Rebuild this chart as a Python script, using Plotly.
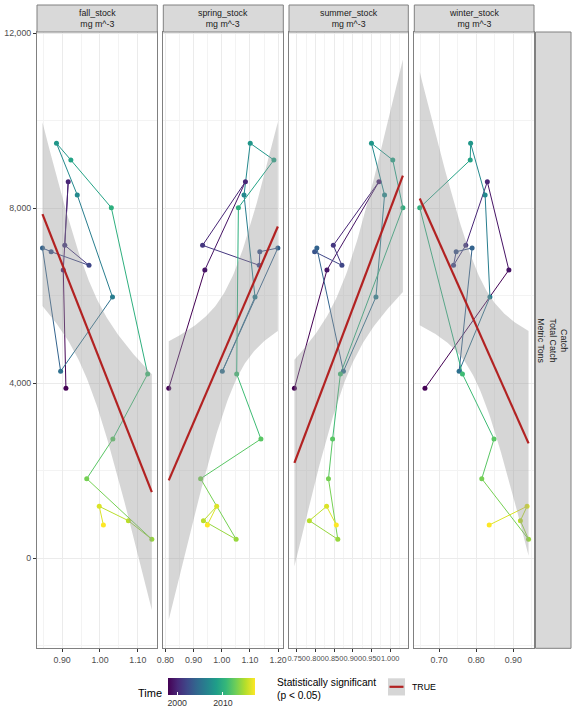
import numpy as np
import plotly.graph_objects as go
from plotly.colors import sample_colorscale

# ---------------- data ----------------
years = list(range(1998, 2018))
catch = [3878, 6583, 8601, 7147, 6690, 7001, 7086, 4267, 5966, 8297,
         9479, 9097, 8007, 4206, 2720, 1813, 427, 853, 1181, 754]
fall_stock = [0.910, 0.903, 0.916, 0.907, 0.971, 0.871, 0.848, 0.896, 1.033, 0.940,
              0.885, 0.923, 1.030, 1.126, 1.034, 0.965, 1.137, 1.075, 0.998, 1.009]
spring_stock = [0.812, 0.940, 1.084, 0.932, 1.133, 1.135, 1.199, 1.002, 1.118, 1.079,
                1.101, 1.185, 1.059, 1.053, 1.139, 0.925, 1.051, 0.935, 0.982, 0.949]
summer_stock = [0.744, 0.831, 0.970, 0.848, 0.871, 0.798, 0.804, 0.875, 0.962, 0.985,
                0.950, 1.007, 1.034, 0.867, 0.846, 0.835, 0.860, 0.784, 0.830, 0.856]
winter_stock = [0.662, 0.888, 0.830, 0.772, 0.739, 0.746, 0.789, 0.754, 0.837, 0.824,
                0.785, 0.784, 0.648, 0.763, 0.848, 0.815, 0.941, 0.919, 0.937, 0.835]

panel_names = ["fall_stock", "spring_stock", "summer_stock", "winter_stock"]
panel_units = "mg m^-3"
panel_data = [fall_stock, spring_stock, summer_stock, winter_stock]
x_dticks = [0.1, 0.1, 0.05, 0.1]
x_formats = [".2f", ".2f", ".3f", ".2f"]
x_fontsizes = [8.8, 8.8, 7.4, 8.8]
y_ticks = [0, 4000, 8000, 12000]
y_ticklabels = ["0", "4,000", "8,000", "12,000"]
color_ticks = [2000, 2010]
facet_right = "Catch<br>Total Catch<br>Metric Tons"
legend_title = "Statistically significant<br>(p < 0.05)"
legend_item = "TRUE"

# ---------------- layout helpers ----------------
W, H = 576, 720
def px(x): return x / W
def py(y): return 1 - y / H

panels_px = [(37.0, 157.3), (163.3, 283.3), (289.0, 408.3), (414.3, 534.0)]
top, bottom = 32.0, 648.3
FONT = "Liberation Sans, Arial, sans-serif"
T975_DF18 = 2.100922  # Student t quantile for 95% CI with n-2 = 18 df

def lm_band(x, y, n=100):
    x = np.asarray(x, float); y = np.asarray(y, float)
    b, a = np.polyfit(x, y, 1)
    xs = np.linspace(x.min(), x.max(), n)
    yhat = a + b * xs
    resid = y - (a + b * x)
    s = np.sqrt(np.sum(resid ** 2) / (len(x) - 2))
    sxx = np.sum((x - x.mean()) ** 2)
    se = s * np.sqrt(1 / len(x) + (xs - x.mean()) ** 2 / sxx)
    return xs, yhat, yhat - T975_DF18 * se, yhat + T975_DF18 * se

tnorm = [(yr - years[0]) / (years[-1] - years[0]) for yr in years]
seg_colors = sample_colorscale("Viridis", tnorm)

fig = go.Figure()
shapes = []
annotations = []

for i, xs in enumerate(panel_data):
    sfx = "" if i == 0 else str(i + 1)
    xr, yr_ = "x" + sfx, "y" + sfx
    # path segments coloured by start year
    for k in range(len(xs) - 1):
        fig.add_trace(go.Scatter(
            x=[xs[k], xs[k + 1]], y=[catch[k], catch[k + 1]], mode="lines",
            line=dict(color=seg_colors[k], width=1), xaxis=xr, yaxis=yr_,
            showlegend=False, hoverinfo="skip"))
    # points
    fig.add_trace(go.Scatter(
        x=xs, y=catch, mode="markers", xaxis=xr, yaxis=yr_, showlegend=False,
        marker=dict(color=years, colorscale="Viridis", cmin=years[0], cmax=years[-1],
                    size=5, line=dict(width=0), showscale=(i == 0),
                    colorbar=dict(orientation="h", x=px(168), xanchor="left",
                                  y=py(678), yanchor="top", len=87, lenmode="pixels",
                                  thickness=17, thicknessmode="pixels", xpad=0, ypad=0,
                                  outlinewidth=0, tickvals=color_ticks, ticks="inside",
                                  tickcolor="white", ticklen=3,
                                  tickfont=dict(size=8.8, color="#333333", family=FONT)))))
    # lm smooth with CI
    gx, gy, lo, hi = lm_band(xs, catch)
    fig.add_trace(go.Scatter(
        x=np.concatenate([gx, gx[::-1]]), y=np.concatenate([lo, hi[::-1]]),
        fill="toself", fillcolor="rgba(153,153,153,0.4)", line=dict(width=0),
        mode="lines", xaxis=xr, yaxis=yr_, showlegend=False, hoverinfo="skip"))
    fig.add_trace(go.Scatter(
        x=gx, y=gy, mode="lines", line=dict(color="#B22222", width=2.2),
        xaxis=xr, yaxis=yr_, showlegend=False, hoverinfo="skip"))

    # axes
    x0p, x1p = panels_px[i]
    span = max(xs) - min(xs)
    xrange = [min(xs) - 0.05 * span, max(xs) + 0.05 * span]
    fig.update_layout(**{
        "xaxis" + sfx: dict(
            domain=[px(x0p), px(x1p)], range=xrange, anchor=yr_, automargin=False,
            dtick=x_dticks[i], tick0=0, tickformat=x_formats[i], tickangle=0,
            showgrid=True, gridcolor="#EBEBEB", gridwidth=1,
            minor=dict(dtick=x_dticks[i] / 2, tick0=0, showgrid=True,
                       gridcolor="#F3F3F3", gridwidth=0.6),
            ticks="outside", ticklen=3, tickcolor="#333333", tickwidth=0.6,
            tickfont=dict(size=x_fontsizes[i], color="#4D4D4D", family=FONT),
            showline=True, linecolor="#808080", linewidth=1, mirror=True,
            zeroline=False),
        "yaxis" + sfx: dict(
            domain=[py(bottom), py(top)], range=[-2064, 12023], anchor=xr,
            automargin=False,
            tickvals=y_ticks, ticktext=y_ticklabels, showticklabels=(i == 0),
            ticks="outside" if i == 0 else "", ticklen=3, tickcolor="#333333",
            tickwidth=0.6,
            tickfont=dict(size=8.8, color="#4D4D4D", family=FONT),
            showgrid=True, gridcolor="#EBEBEB", gridwidth=1,
            minor=dict(dtick=2000, tick0=0, showgrid=True,
                       gridcolor="#F3F3F3", gridwidth=0.6),
            showline=True, linecolor="#808080", linewidth=1, mirror=True,
            zeroline=False),
    })
    # strip on top
    shapes.append(dict(type="rect", xref="paper", yref="paper",
                       x0=px(x0p), x1=px(x1p), y0=py(32), y1=py(5),
                       fillcolor="#D9D9D9", line=dict(color="#808080", width=1)))
    annotations.append(dict(xref="paper", yref="paper", x=px((x0p + x1p) / 2),
                            y=py(18.5), xanchor="center", yanchor="middle",
                            text=panel_names[i] + "<br>" + panel_units, showarrow=False,
                            font=dict(size=8.8, color="#1A1A1A", family=FONT)))

# right strip
shapes.append(dict(type="rect", xref="paper", yref="paper",
                   x0=px(535.5), x1=px(571), y0=py(bottom), y1=py(top),
                   fillcolor="#D9D9D9", line=dict(color="#808080", width=1)))
annotations.append(dict(xref="paper", yref="paper", x=px(553), y=py((top + bottom) / 2),
                        xanchor="center", yanchor="middle", text=facet_right,
                        textangle=90, showarrow=False,
                        font=dict(size=8.8, color="#1A1A1A", family=FONT)))

# colour legend title
annotations.append(dict(xref="paper", yref="paper", x=px(164), y=py(693),
                        xanchor="right", yanchor="middle", text="Time", showarrow=False,
                        font=dict(size=11, color="#000000", family=FONT)))
# significance legend
annotations.append(dict(xref="paper", yref="paper", x=px(275), y=py(689),
                        xanchor="left", yanchor="middle", text=legend_title, align="left",
                        showarrow=False, font=dict(size=10.2, color="#000000", family=FONT)))
shapes.append(dict(type="rect", xref="paper", yref="paper",
                   x0=px(388), x1=px(405), y0=py(695.5), y1=py(678.3),
                   fillcolor="#D6D6D6", line=dict(width=0)))
shapes.append(dict(type="line", xref="paper", yref="paper",
                   x0=px(389.5), x1=px(403.5), y0=py(686.8), y1=py(686.8),
                   line=dict(color="#B22222", width=2.2)))
annotations.append(dict(xref="paper", yref="paper", x=px(410), y=py(687),
                        xanchor="left", yanchor="middle", text=legend_item,
                        showarrow=False, font=dict(size=8.8, color="#000000", family=FONT)))

fig.update_layout(width=W, height=H, margin=dict(l=0, r=0, t=0, b=0),
                  paper_bgcolor="white", plot_bgcolor="white",
                  font=dict(family=FONT), showlegend=False,
                  shapes=shapes, annotations=annotations)

fig.write_html("out.html")
